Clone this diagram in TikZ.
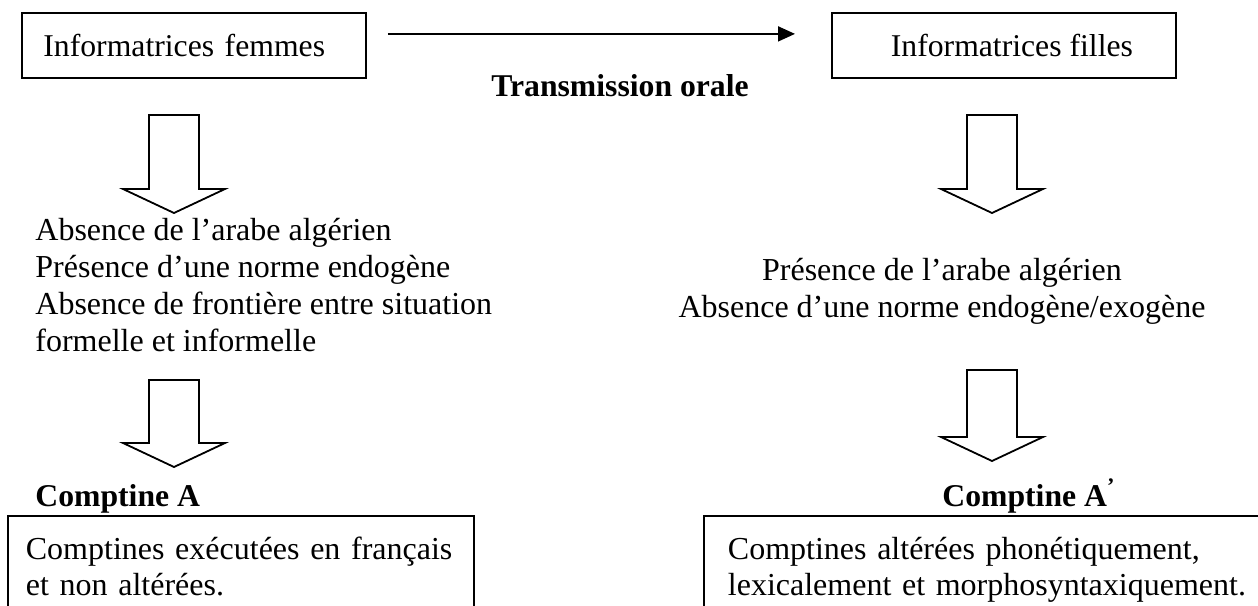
\documentclass[tikz,border=0pt]{standalone}
\usepackage{fontspec}
\setmainfont{Liberation Serif}
\usetikzlibrary{arrows.meta,positioning}

\newcommand\bigtxt{\fontsize{15.85}{18}\selectfont}
\newcommand\listfont{\fontsize{16}{18.4}\selectfont}

\tikzset{
  pics/hollowdown/.style={code={
    \draw[line width=0.9pt] (-25,0) -- (-25,#1) -- (-51,#1) -- (0,{#1+24})
      -- (51,#1) -- (25,#1) -- (25,0) -- cycle;
  }},
  titlebox/.style={draw, line width=0.9pt, inner sep=0pt, minimum width=172pt,
    minimum height=32.5pt, font=\bigtxt},
  listtxt/.style={inner sep=0pt, font=\listfont},
  resultbox/.style={draw, line width=0.9pt, inner ysep=10.5pt, text depth=60pt,
    font=\fontsize{16}{18}\selectfont, align=left},
}

\begin{document}
\begin{tikzpicture}
[x=0.5pt, y=-0.5pt]
\useasboundingbox (0,0) rectangle (1258,605);
\clip (0,0) rectangle (1258,605);

\node[titlebox, anchor=north west, text width=150.5pt, inner xsep=10.5pt, align=left] (Fe) at (21,12) {Informatrices femmes};

\node[titlebox, anchor=north west] (Fi) at (831,12) {\hspace*{8pt}Informatrices filles};

\draw[line width=0.9pt, -{Triangle[length=8.5pt,width=7.5pt]}, shorten <=10.5pt, shorten >=18pt]
  ([yshift=5.75pt]Fe.east) -- ([yshift=5.75pt]Fi.west);

\node[anchor=base, font=\bigtxt\bfseries] (T) at (620,96) {Transmission orale};

\pic at (174,115) {hollowdown=74};
\pic at (992,115) {hollowdown=74};

\node[listtxt, align=left, anchor=north west] (L1) at (35,218) {Absence de l’arabe algérien\\Présence d’une norme endogène\\Absence de frontière entre situation\\formelle et informelle};

\node[listtxt, align=center, anchor=north] (R1) at (942,258) {Présence de l’arabe algérien\\Absence d’une norme endogène/exogène};

\pic at (174,380) {hollowdown=63};
\pic at (992,370) {hollowdown=67};

\node[anchor=base west, inner sep=0pt, font=\bigtxt\bfseries] (CA) at (35,506) {Comptine A};
\node[anchor=base west, inner sep=0pt, font=\bigtxt\bfseries] (CB) at (942,506) {Comptine A\textsuperscript{’}};

\node[resultbox, anchor=north west, text width=215pt, inner xsep=9pt] (RA) at (7,515)
  {\makebox[212.5pt][s]{Comptines exécutées en français}\\et non altérées.};

\node[resultbox, anchor=north west, text width=300pt, inner xsep=12pt] (RB) at (703,515)
  {Comptines altérées phonétiquement,\\lexicalement et morphosyntaxiquement.};

\end{tikzpicture}
\end{document}
